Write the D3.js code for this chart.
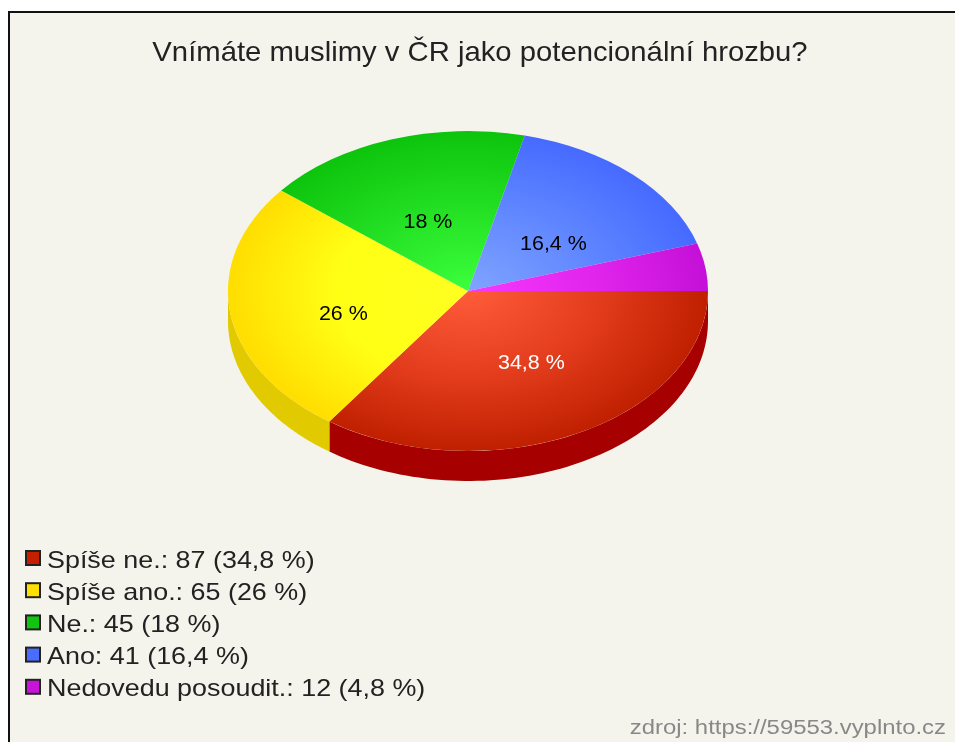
<!DOCTYPE html>
<html><head><meta charset="utf-8">
<script src="https://cdn.jsdelivr.net/npm/d3@7/dist/d3.min.js"></script>
<style>html,body{margin:0;padding:0;background:#fff;overflow:hidden}svg{display:block;filter:blur(0.7px)}text{font-family:"Liberation Sans",Arial,sans-serif}</style>
</head><body><div id="c"></div>
<script>
const title = "Vnímáte muslimy v ČR jako potencionální hrozbu?";
const source = "zdroj: https://59553.vyplnto.cz";
const categories = ["Spíše ne.", "Spíše ano.", "Ne.", "Ano", "Nedovedu posoudit."];
const values = [87, 65, 45, 41, 12];
const percents = ["34,8", "26", "18", "16,4", "4,8"];
const swatch = ["#c42000", "#ffe000", "#10c410", "#4a6cff", "#c814d8"];
const inner = ["#ff5c3a", "#ffff22", "#3cff3c", "#80a4ff", "#f838ff"];
const middle = ["#e23c1c", "#ffff14", "#22de22", "#5f86ff", "#e024ec"];
const outer = ["#c02000", "#ffdd00", "#0cc40c", "#466aff", "#c410d8"];
const wall = ["#a60000", "#e2ca00", "#0a9a0a", "#3450c0", "#9a10a8"];
const labelFill = ["#fff", "#000", "#000", "#000", null];
const labelNudgeX = [6, -1, 0, 0, 0];
const labelNudgeY = [-2, 6, -5, 1, 0];

const W = 955, H = 742, cx = 468, cy = 291, rx = 240, ry = 160, depth = 30;
const svg = d3.select("#c").append("svg").attr("width", W).attr("height", H);
// widen glyphs horizontally, as in the stretched reference image
const stretch = (sel, k) => sel.each(function () {
  d3.select(this).attr("textLength", this.getComputedTextLength() * k).attr("lengthAdjust", "spacingAndGlyphs");
});
svg.append("rect").attr("x", 9).attr("y", 12).attr("width", W).attr("height", H)
  .attr("fill", "#f4f4ec").attr("stroke", "#111").attr("stroke-width", 2);
svg.append("text").attr("x", 480).attr("y", 61).attr("text-anchor", "middle")
  .attr("font-size", 27.4).attr("fill", "#222").text(title).call(stretch, 1.068);

const rows = categories.map((c, i) => ({c, i, v: values[i]}));
const pie = d3.pie().sort(null).value(d => d.v).startAngle(Math.PI / 2).endAngle(Math.PI * 2.5);
const arcs = pie(rows);
const defs = svg.append("defs");
arcs.forEach(a => {
  const g = defs.append("radialGradient").attr("id", "g" + a.data.i).attr("gradientUnits", "userSpaceOnUse")
    .attr("cx", 0).attr("cy", 0).attr("r", rx);
  g.append("stop").attr("offset", 0).attr("stop-color", inner[a.data.i]);
  g.append("stop").attr("offset", 0.55).attr("stop-color", middle[a.data.i]);
  g.append("stop").attr("offset", 1).attr("stop-color", outer[a.data.i]);
});

// side walls: only the front half of the ellipse (screen angle 0..180 deg)
const toScreen = t => t - Math.PI / 2;
const sx = d3.scaleLinear().domain([-1, 1]).range([cx - rx, cx + rx]);
const sy = d3.scaleLinear().domain([-1, 1]).range([cy - ry, cy + ry]);
const wallArea = d3.area().x(t => sx(Math.cos(t))).y0(t => sy(Math.sin(t))).y1(t => sy(Math.sin(t)) + depth);
arcs.forEach(a => {
  const t0 = Math.max(toScreen(a.startAngle), 0), t1 = Math.min(toScreen(a.endAngle), Math.PI);
  if (t1 <= t0) return;
  const ts = d3.range(0, 81).map(k => t0 + (t1 - t0) * k / 80);
  svg.append("path").attr("d", wallArea(ts)).attr("fill", wall[a.data.i]);
});

const topFace = svg.append("g").attr("transform", `translate(${cx},${cy}) scale(1,${ry / rx})`);
const arc = d3.arc().innerRadius(0).outerRadius(rx);
topFace.selectAll("path").data(arcs).join("path").attr("d", arc)
  .attr("fill", d => `url(#g${d.data.i})`);

arcs.forEach(a => {
  const i = a.data.i;
  if (!labelFill[i]) return;
  const m = toScreen((a.startAngle + a.endAngle) / 2);
  svg.append("text").attr("x", cx + 0.52 * rx * Math.cos(m) + labelNudgeX[i])
    .attr("y", cy + 0.47 * ry * Math.sin(m) + 13 + labelNudgeY[i])
    .attr("text-anchor", "middle").attr("font-size", 19.5).attr("fill", labelFill[i])
    .text(percents[i] + " %").call(stretch, 1.1);
});

const lg = svg.append("g").selectAll("g").data(rows).join("g")
  .attr("transform", (d, i) => `translate(25,${550 + i * 32.2})`);
lg.append("rect").attr("x", 1).attr("y", 1).attr("width", 14).attr("height", 14)
  .attr("fill", d => swatch[d.i]).attr("stroke", "#222").attr("stroke-width", 2);
lg.append("text").attr("x", 22).attr("y", 17.5).attr("font-size", 23.2).attr("fill", "#222")
  .text(d => `${d.c}: ${d.v} (${percents[d.i]} %)`).call(stretch, 1.16);

svg.append("text").attr("x", 946).attr("y", 734).attr("text-anchor", "end")
  .attr("font-size", 20.5).attr("fill", "#888").text(source).call(stretch, 1.166);
</script></body></html>
